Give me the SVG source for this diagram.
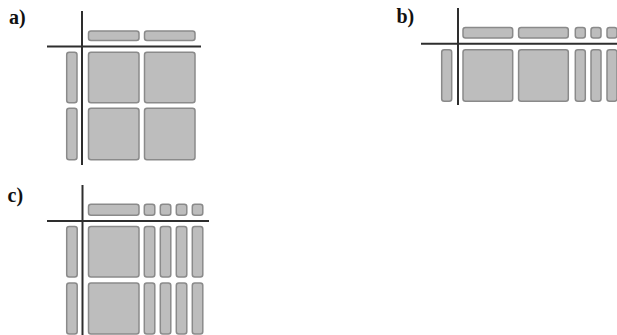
<svg xmlns="http://www.w3.org/2000/svg" width="617" height="335" viewBox="0 0 617 335">
<style>
.b{fill:#bdbdbd;stroke:#8a8a8a;stroke-width:1.5}
.ax{stroke:#2e2e2e;stroke-width:2;fill:none}
.lbl{font-family:"Liberation Serif",serif;font-weight:bold;font-size:20px;fill:#111}
</style>
<rect width="617" height="335" fill="#fff"/>
<g id="panel-a">
<text class="lbl" x="9" y="23.5">a)</text>
<rect class="b" x="88.5" y="31" width="50.5" height="9.5" rx="2.5"/>
<rect class="b" x="144.5" y="31" width="50.5" height="9.5" rx="2.5"/>
<rect class="b" x="66.7" y="52.3" width="10.3" height="50.4" rx="2.5"/>
<rect class="b" x="66.7" y="108.3" width="10.3" height="51.4" rx="2.5"/>
<rect class="b" x="88.5" y="52.3" width="50.5" height="50.4" rx="2.5"/>
<rect class="b" x="144.5" y="52.3" width="50.5" height="50.4" rx="2.5"/>
<rect class="b" x="88.5" y="108.3" width="50.5" height="51.4" rx="2.5"/>
<rect class="b" x="144.5" y="108.3" width="50.5" height="51.4" rx="2.5"/>
</g>
<g id="panel-b">
<text class="lbl" x="396.5" y="22.5">b)</text>
<rect class="b" x="463" y="27.5" width="49.7" height="10.5" rx="2.5"/>
<rect class="b" x="518.6" y="27.5" width="49.7" height="10.5" rx="2.5"/>
<rect class="b" x="575.3" y="27.5" width="10" height="10.5" rx="2.5"/>
<rect class="b" x="591" y="27.5" width="10" height="10.5" rx="2.5"/>
<rect class="b" x="607" y="27.5" width="10" height="10.5" rx="2.5"/>
<rect class="b" x="441.7" y="49.8" width="10" height="51.4" rx="2.5"/>
<rect class="b" x="463" y="49.8" width="49.7" height="51.4" rx="2.5"/>
<rect class="b" x="518.6" y="49.8" width="49.7" height="51.4" rx="2.5"/>
<rect class="b" x="575.3" y="49.8" width="10" height="51.4" rx="2.5"/>
<rect class="b" x="591" y="49.8" width="10" height="51.4" rx="2.5"/>
<rect class="b" x="607" y="49.8" width="10" height="51.4" rx="2.5"/>
</g>
<g id="panel-c">
<text class="lbl" x="7.5" y="201.5">c)</text>
<rect class="b" x="88.5" y="204.3" width="50.5" height="11" rx="2.5"/>
<rect class="b" x="144.3" y="204.3" width="10.5" height="11" rx="2.5"/>
<rect class="b" x="160.3" y="204.3" width="10.5" height="11" rx="2.5"/>
<rect class="b" x="176.3" y="204.3" width="10.5" height="11" rx="2.5"/>
<rect class="b" x="192.3" y="204.3" width="10.5" height="11" rx="2.5"/>
<rect class="b" x="66.7" y="226.5" width="10.5" height="50.5" rx="2.5"/>
<rect class="b" x="66.7" y="283" width="10.5" height="51" rx="2.5"/>
<rect class="b" x="88.5" y="226.5" width="50.5" height="50.5" rx="2.5"/>
<rect class="b" x="88.5" y="283" width="50.5" height="51" rx="2.5"/>
<rect class="b" x="144.3" y="226.5" width="10.5" height="50.5" rx="2.5"/>
<rect class="b" x="160.3" y="226.5" width="10.5" height="50.5" rx="2.5"/>
<rect class="b" x="176.3" y="226.5" width="10.5" height="50.5" rx="2.5"/>
<rect class="b" x="192.3" y="226.5" width="10.5" height="50.5" rx="2.5"/>
<rect class="b" x="144.3" y="283" width="10.5" height="51" rx="2.5"/>
<rect class="b" x="160.3" y="283" width="10.5" height="51" rx="2.5"/>
<rect class="b" x="176.3" y="283" width="10.5" height="51" rx="2.5"/>
<rect class="b" x="192.3" y="283" width="10.5" height="51" rx="2.5"/>
</g>
<g id="connectors">
<line class="ax" x1="82" y1="11" x2="82" y2="165"/>
<line class="ax" x1="47" y1="46.5" x2="201" y2="46.5"/>
<line class="ax" x1="458" y1="8" x2="458" y2="105"/>
<line class="ax" x1="421" y1="43.8" x2="617" y2="43.8"/>
<line class="ax" x1="82.5" y1="185" x2="82.5" y2="335"/>
<line class="ax" x1="47" y1="221" x2="209" y2="221"/>
</g>
</svg>
